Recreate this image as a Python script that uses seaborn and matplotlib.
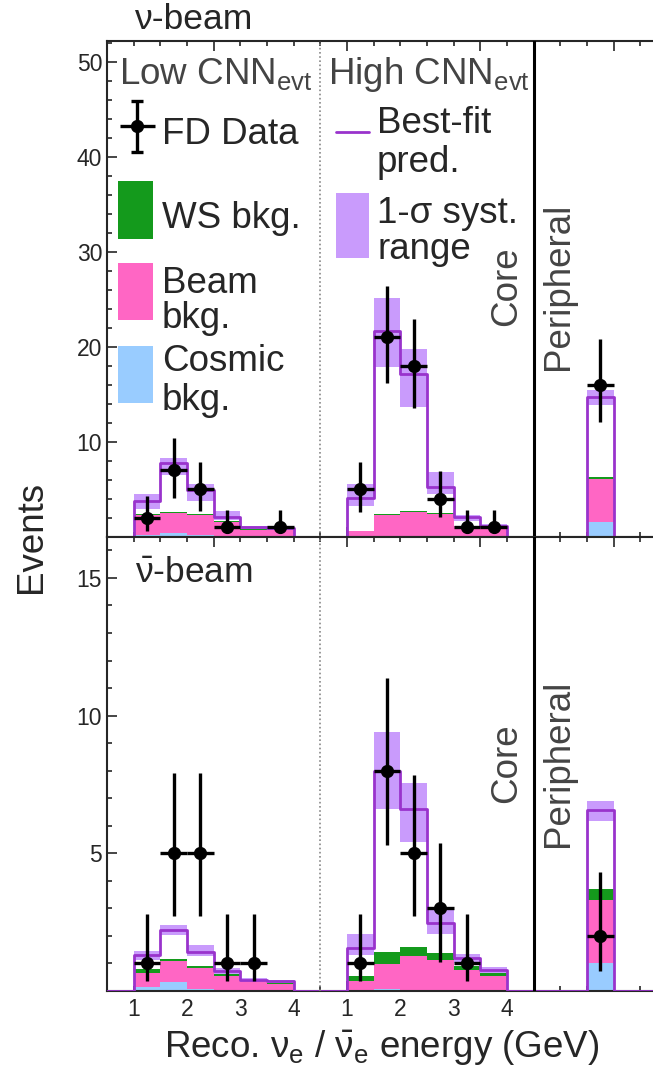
import numpy as np
import pandas as pd
import matplotlib
matplotlib.use('Agg')
import matplotlib.pyplot as plt
from matplotlib.ticker import MultipleLocator
import seaborn as sns

# bins: Low CNN (1-4 GeV), High CNN (shifted by 4), Peripheral
edges_full = [0.5, 1.0, 1.5, 2.0, 2.5, 3.0, 3.5, 4.0,
              5.0, 5.5, 6.0, 6.5, 7.0, 7.5, 8.0, 9.5, 10.0, 11.0]
centers = [1.25, 1.75, 2.25, 2.75, 3.25, 3.75,
           5.25, 5.75, 6.25, 6.75, 7.25, 7.75, 9.75]

# neutrino beam
pred_nu = [3.8, 7.75, 4.95, 2.1, 1.0, 0.95, 4.1, 21.7, 17.1, 5.2, 2.1, 1.1, 14.7]
syst_lo_nu = [2.9, 6.5, 3.8, 1.8, 0.8, 0.75, 3.2, 17.9, 13.7, 4.5, 1.7, 0.9, 13.9]
syst_hi_nu = [4.5, 8.3, 5.5, 2.7, 1.15, 1.1, 5.5, 25.1, 19.75, 6.8, 2.3, 1.3, 15.5]
cosmic_nu = [0.2, 0.4, 0.15, 0.05, 0.02, 0.02, 0.02, 0.05, 0.05, 0.05, 0.02, 0.02, 1.6]
beam_nu = [2.1, 2.1, 2.15, 1.55, 0.73, 0.68, 0.58, 2.25, 2.55, 2.35, 1.08, 0.98, 4.5]
ws_nu = [0.05, 0.08, 0.05, 0.03, 0.02, 0.02, 0.03, 0.1, 0.12, 0.08, 0.03, 0.03, 0.15]
data_nu = [2, 7, 5, 1, 0, 1, 5, 21, 18, 4, 1, 1, 16]
errlo_nu = [1.4, 2.9, 2.3, 0.65, 0, 0.65, 2.4, 4.8, 4.4, 1.9, 0.65, 0.65, 3.9]
errhi_nu = [2.3, 3.4, 2.9, 1.85, 0, 1.85, 2.9, 5.45, 4.9, 2.9, 1.85, 1.85, 4.8]

# antineutrino beam
pred_nub = [1.28, 2.19, 1.4, 0.73, 0.4, 0.34, 1.55, 8.0, 6.6, 2.45, 1.2, 0.76, 6.55]
syst_lo_nub = [1.12, 2.04, 1.25, 0.58, 0.33, 0.28, 1.3, 6.6, 5.4, 2.06, 1.02, 0.65, 6.15]
syst_hi_nub = [1.45, 2.38, 1.67, 0.82, 0.45, 0.4, 2.07, 9.4, 7.55, 2.94, 1.33, 0.85, 6.9]
cosmic_nub = [0.13, 0.3, 0.05, 0.02, 0.01, 0.01, 0.02, 0.07, 0.03, 0.02, 0.01, 0.01, 1.0]
beam_nub = [0.51, 0.77, 0.78, 0.51, 0.36, 0.24, 0.34, 0.9, 1.22, 1.11, 0.75, 0.54, 2.3]
ws_nub = [0.16, 0.08, 0.05, 0.07, 0.03, 0.03, 0.18, 0.43, 0.35, 0.24, 0.14, 0.08, 0.39]
data_nub = [1, 5, 5, 1, 1, 0, 1, 8, 5, 3, 1, 0, 2]
errlo_nub = [0.65, 2.3, 2.3, 0.65, 0.65, 0, 0.65, 2.7, 2.3, 1.95, 0.65, 0, 1.3]
errhi_nub = [1.8, 2.9, 2.9, 1.8, 1.8, 0, 1.8, 3.35, 2.85, 2.35, 1.8, 0, 2.3]

tick_pos = [1, 2, 3, 4, 5, 6, 7, 8]
tick_lab = ['1', '2', '3', '4', '1', '2', '3', '4']

col_ws = '#149a1c'
col_beam = '#ff66c4'
col_cos = '#99ccff'
col_band = '#c99bfc'
col_pred = '#9933cc'
grey_txt = '#444444'

sns.set_style('ticks')
plt.rcParams['font.family'] = ['Liberation Sans', 'DejaVu Sans']
plt.rcParams['mathtext.fontset'] = 'custom'
plt.rcParams['mathtext.rm'] = 'Liberation Sans'
plt.rcParams['mathtext.it'] = 'Liberation Sans:italic'
plt.rcParams['mathtext.sf'] = 'Liberation Sans'

W, H = 653, 1068
fig = plt.figure(figsize=(W / 100, H / 100), dpi=100)
ax_top = fig.add_axes([107 / W, 1 - 536.7 / H, 1 - 107 / W, (536.7 - 41) / H])
ax_bot = fig.add_axes([107 / W, 1 - 990.7 / H, 1 - 107 / W, (990.7 - 536.7) / H])

big = 26.5
ms = 8.5


def draw_panel(ax, pred, slo, shi, cos, beam, ws, data, elo, ehi):
    # systematic band
    ax.bar(centers, np.array(shi) - np.array(slo), bottom=slo, width=0.5,
           color=col_band, linewidth=0, zorder=1)
    # stacked backgrounds
    df = pd.DataFrame({
        'x': centers * 3,
        'w': list(ws) + list(beam) + list(cos),
        'comp': ['WS'] * 13 + ['Beam'] * 13 + ['Cosmic'] * 13,
    })
    sns.histplot(data=df, x='x', weights='w', hue='comp',
                 hue_order=['WS', 'Beam', 'Cosmic'], multiple='stack',
                 bins=edges_full, element='bars', alpha=1, linewidth=0,
                 palette={'WS': col_ws, 'Beam': col_beam, 'Cosmic': col_cos},
                 legend=False, ax=ax, zorder=2)
    # best-fit prediction
    sns.histplot(x=centers, weights=pred, bins=edges_full, element='step',
                 fill=False, color=col_pred, linewidth=2.0, ax=ax, zorder=3)
    # data
    d = np.array(data, dtype=float)
    m = d > 0
    ax.errorbar(np.array(centers)[m], d[m], xerr=0.25,
                yerr=[np.array(elo)[m], np.array(ehi)[m]], fmt='o',
                color='black', ms=ms, elinewidth=2.4, capsize=0, zorder=5)

    ax.axvline(4.5, color='#888888', lw=1.2, ls=(0, (1, 1.5)), zorder=4)
    ax.axvline(8.5, color='black', lw=2.2, zorder=4)
    ax.set_xlim(0.5, 10.74)
    ax.set_xlabel('')
    ax.set_ylabel('')
    ax.xaxis.set_major_locator(MultipleLocator(2.5))
    ax.xaxis.set_minor_locator(MultipleLocator(0.5))
    ax.tick_params(axis='both', which='both', direction='in', top=True,
                   right=False, labelbottom=False, width=1.2, labelsize=16.5)
    ax.tick_params(axis='both', which='major', length=7)
    ax.tick_params(axis='both', which='minor', length=3.5)
    ax.spines['right'].set_visible(False)
    for s in ['left', 'top', 'bottom']:
        ax.spines[s].set_linewidth(1.5)


draw_panel(ax_top, pred_nu, syst_lo_nu, syst_hi_nu, cosmic_nu, beam_nu, ws_nu,
           data_nu, errlo_nu, errhi_nu)
draw_panel(ax_bot, pred_nub, syst_lo_nub, syst_hi_nub, cosmic_nub, beam_nub, ws_nub,
           data_nub, errlo_nub, errhi_nub)

ax_top.set_ylim(0, 52.2)
ax_top.set_yticks([10, 20, 30, 40, 50])
ax_top.yaxis.set_minor_locator(MultipleLocator(2))
ax_bot.set_ylim(0, 16.5)
ax_bot.set_yticks([5, 10, 15])
ax_bot.yaxis.set_minor_locator(MultipleLocator(1))

for p, l in zip(tick_pos, tick_lab):
    ax_bot.text(p, -0.016, l, transform=ax_bot.get_xaxis_transform(),
                ha='center', va='top', fontsize=16.5)

# beam labels
ax_top.text(1.03, 53.5, 'ν-beam', fontsize=big - 1, va='baseline', clip_on=False)
ax_bot.text(1.03, 14.86, r'$\bar{\mathrm{\nu}}$-beam', fontsize=big - 1, va='baseline')

# region labels
ax_top.text(0.73, 47.7, r'Low CNN$_{\mathrm{evt}}$', fontsize=big, color=grey_txt, va='baseline')
ax_top.text(4.65, 47.7, r'High CNN$_{\mathrm{evt}}$', fontsize=big, color=grey_txt, va='baseline')
for ax, yc in [(ax_top, 26.4), (ax_bot, 8.27)]:
    ax.text(8.0, yc, 'Core', rotation=90, fontsize=big, color=grey_txt,
            ha='center', va='center')
    ax.text(8.97, yc, 'Peripheral', rotation=90, fontsize=big, color=grey_txt,
            ha='center', va='center')

# legend (drawn in place)
ax_top.errorbar([1.066], [43.2], xerr=0.33, fmt='o', color='black',
                ms=ms, elinewidth=2.4, capsize=0, zorder=5)
ax_top.errorbar([1.066], [43.2], yerr=2.7, fmt='none', color='black',
                elinewidth=2.4, capsize=4, capthick=2.4, zorder=5)
ax_top.text(1.53, 41.4, 'FD Data', fontsize=big, va='baseline')
leg_boxes = [(col_ws, 31.4, 37.42, ['WS bkg.'], [32.5]),
             (col_beam, 22.8, 28.8, ['Beam', 'bkg.'], [25.7, 22.0]),
             (col_cos, 14.07, 20.07, ['Cosmic', 'bkg.'], [17.5, 13.3])]
for c, y0, y1, lines, ys in leg_boxes:
    ax_top.bar([1.037], [y1 - y0], bottom=[y0], width=0.657, color=c, linewidth=0)
    for s, yb in zip(lines, ys):
        ax_top.text(1.53, yb, s, fontsize=big, va='baseline')

ax_top.plot([4.797, 5.416], [42.6, 42.6], color=col_pred, lw=2.0)
ax_top.text(5.565, 42.5, 'Best-fit', fontsize=big, va='baseline')
ax_top.text(5.565, 38.4, 'pred.', fontsize=big, va='baseline')
ax_top.bar([5.106], [36.2 - 29.3], bottom=[29.3], width=0.62, color=col_band, linewidth=0)
ax_top.text(5.565, 33.0, '1-σ syst.', fontsize=big, va='baseline')
ax_top.text(5.565, 29.2, 'range', fontsize=big, va='baseline')

fig.text(382 / W, 1 - 1058 / H, r'Reco. $\mathrm{\nu_e}$ / $\bar{\mathrm{\nu}}_\mathrm{e}$ energy (GeV)',
         ha='center', va='baseline', fontsize=big)
fig.text(32 / W, 1 - 536.7 / H, 'Events', rotation=90, ha='center', va='center',
         fontsize=big)

fig.savefig('out.png', dpi=100)
